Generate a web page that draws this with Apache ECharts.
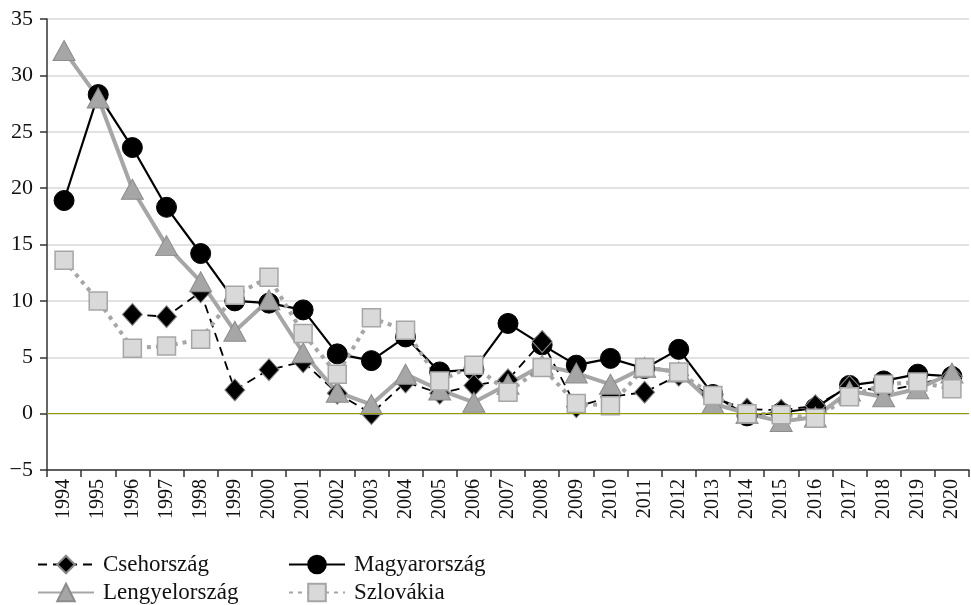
<!DOCTYPE html>
<html>
<head>
<meta charset="utf-8">
<style>
  html, body { margin: 0; padding: 0; background: #fff; }
  #chart { width: 971px; height: 605px; }
</style>
<script src="https://cdn.jsdelivr.net/npm/echarts@6/dist/echarts.min.js"></script>
</head>
<body>
<div id="chart"></div>
<script>
// évek és infláció (%)
const years = ['1994', '1995', '1996', '1997', '1998', '1999', '2000', '2001', '2002', '2003',
  '2004', '2005', '2006', '2007', '2008', '2009', '2010', '2011', '2012', '2013',
  '2014', '2015', '2016', '2017', '2018', '2019', '2020']

const cseh = [null, null, 8.8, 8.6, 10.8, 2.1, 3.9, 4.6, 1.8, 0.0,
  2.8, 1.8, 2.5, 3.0, 6.4, 0.6, 1.5, 1.9, 3.4, 1.4,
  0.4, 0.3, 0.7, 2.4, 2.0, 2.6, 3.3]
const magyar = [18.9, 28.3, 23.6, 18.3, 14.2, 10.0, 9.8, 9.2, 5.3, 4.7,
  6.8, 3.7, 3.9, 8.0, 6.1, 4.3, 4.9, 4.0, 5.7, 1.7,
  -0.2, 0.1, 0.5, 2.5, 2.9, 3.5, 3.3]
const lengyel = [32.2, 28.0, 19.9, 14.9, 11.7, 7.3, 10.1, 5.4, 1.9, 0.8,
  3.5, 2.1, 1.0, 2.6, 4.3, 3.6, 2.6, 4.1, 3.7, 0.9,
  0.0, -0.7, -0.3, 2.0, 1.5, 2.2, 3.6]
const szlovak = [13.6, 10.0, 5.8, 6.0, 6.6, 10.5, 12.1, 7.1, 3.5, 8.5,
  7.4, 2.9, 4.3, 1.9, 4.1, 0.9, 0.7, 4.1, 3.7, 1.6,
  0.0, -0.1, -0.4, 1.5, 2.6, 2.8, 2.2]

const yTicks = { min: -5, max: 35, interval: 5 }

const serif = '"Liberation Serif", "DejaVu Serif", serif'

// egy jelmagyarázat-elem, külön pozícióval (2x2 elrendezés)
function legendItem (name, left, top) {
  return {
    left: left, top: top, orient: 'horizontal',
    itemWidth: 56, itemHeight: 22,
    textStyle: { fontFamily: serif, fontSize: 23, color: '#111', padding: [0, 0, 0, 4] },
    data: [name]
  }
}

const chart = echarts.init(document.getElementById('chart'))
const option = {
  animation: false,
  textStyle: { fontFamily: serif },
  grid: { left: 47, right: 2, top: 19, bottom: 135 },
  legend: [
    legendItem('Csehország', 32, 548),
    legendItem('Lengyelország', 32, 576),
    legendItem('Magyarország', 283, 548),
    legendItem('Szlovákia', 283, 576)
  ],
  xAxis: {
    type: 'category',
    data: years,
    boundaryGap: true,
    axisLine: { onZero: false, lineStyle: { color: '#333', width: 1.5 } },
    axisTick: { show: true, length: 7, lineStyle: { color: '#333', width: 1.5 } },
    axisLabel: { rotate: 90, fontSize: 20, color: '#111', fontFamily: serif, margin: 9 }
  },
  yAxis: {
    type: 'value',
    min: yTicks.min, max: yTicks.max, interval: yTicks.interval,
    axisLine: { show: true, lineStyle: { color: '#333', width: 1.5 } },
    axisTick: { show: true, length: 7, lineStyle: { color: '#333', width: 1.5 } },
    axisLabel: {
      fontSize: 22, color: '#111', fontFamily: serif, margin: 14,
      formatter: v => String(v).replace('-', '\u2212')
    },
    splitLine: { lineStyle: { color: '#d9d9d9', width: 1.5 } }
  },
  series: [
    {
      name: 'Magyarország', type: 'line', data: magyar,
      symbol: 'circle', symbolSize: 20,
      itemStyle: { color: '#000', borderColor: '#000', borderWidth: 1 },
      lineStyle: { color: '#000', width: 2.2 },
      markLine: {
        silent: true, symbol: 'none', label: { show: false },
        lineStyle: { color: '#999900', width: 1.2, type: 'solid' },
        data: [{ yAxis: 0 }]
      }
    },
    {
      name: 'Csehország', type: 'line', data: cseh,
      symbol: 'diamond', symbolSize: [20, 22],
      itemStyle: { color: '#000', borderColor: '#888', borderWidth: 1 },
      lineStyle: { color: '#000', width: 1.8, type: [9, 6] }
    },
    {
      name: 'Lengyelország', type: 'line', data: lengyel,
      symbol: 'triangle', symbolSize: [22, 20],
      itemStyle: { color: '#a6a6a6', borderColor: '#8c8c8c', borderWidth: 1 },
      lineStyle: { color: '#a6a6a6', width: 4 }
    },
    {
      name: 'Szlovákia', type: 'line', data: szlovak,
      symbol: 'rect', symbolSize: 18,
      itemStyle: { color: '#d9d9d9', borderColor: '#a6a6a6', borderWidth: 1.5 },
      lineStyle: { color: '#a6a6a6', width: 4, type: [4, 5] }
    }
  ]
}
chart.setOption(option)
</script>
</body>
</html>
